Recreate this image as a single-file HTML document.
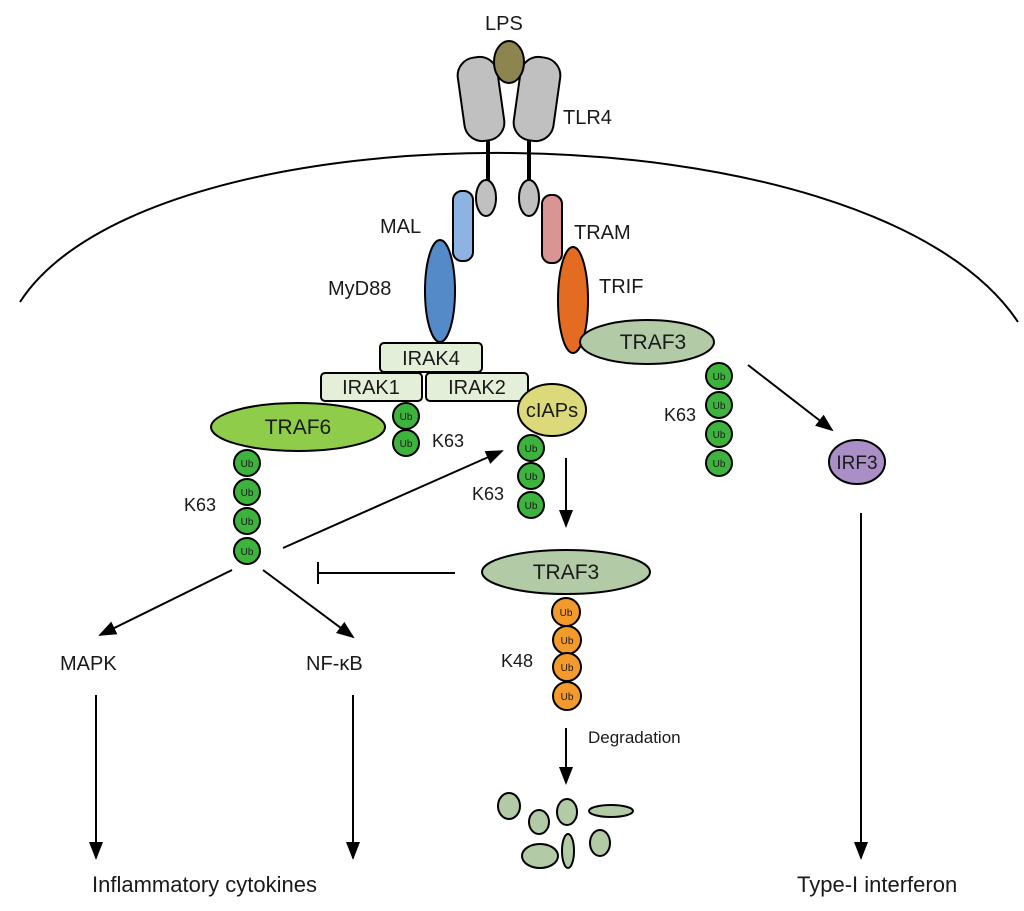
<!DOCTYPE html>
<html><head><meta charset="utf-8"><style>body{margin:0;background:#fff}svg{display:block}text{font-family:"Liberation Sans",Arial,sans-serif;fill:#1a1a1a}</style></head>
<body>
<svg width="1024" height="911" viewBox="0 0 1024 911" xmlns="http://www.w3.org/2000/svg">
<defs>
<marker id="ah2" markerWidth="18" markerHeight="16" refX="16" refY="7" orient="auto" markerUnits="userSpaceOnUse"><path d="M0,0 L18,7 L0,14 z" fill="#000"/></marker>
</defs>
<g stroke="#000" stroke-width="2">
<path d="M20,302 C150,100 870,100 1018,322" fill="none"/>
<line x1="488" y1="138" x2="488" y2="182" stroke-width="4"/>
<line x1="529" y1="138" x2="529" y2="182" stroke-width="4"/>
<rect x="461" y="57" width="40" height="84" rx="18" fill="#c0c0c0" transform="rotate(-8 481 99)"/>
<rect x="517" y="57" width="40" height="84" rx="18" fill="#c0c0c0" transform="rotate(8 537 99)"/>
<ellipse cx="509" cy="62" rx="15" ry="21" fill="#8c8550"/>
<ellipse cx="486" cy="198" rx="10" ry="18" fill="#c0c0c0"/>
<ellipse cx="529" cy="198" rx="10" ry="18" fill="#c0c0c0"/>
<rect x="453" y="191" width="20" height="70" rx="9" fill="#8db3e2"/>
<ellipse cx="440" cy="291" rx="15" ry="51" fill="#558ac8"/>
<rect x="542" y="195" width="20" height="68" rx="9" fill="#d99594"/>
<ellipse cx="573" cy="300" rx="15" ry="53" fill="#e46c22"/>
<ellipse cx="647" cy="342" rx="67" ry="22" fill="#b2caa6"/>
<rect x="380" y="343" width="102" height="29" rx="4" fill="#e3efd8"/>
<rect x="321" y="373" width="101" height="28" rx="4" fill="#e3efd8"/>
<rect x="426" y="373" width="102" height="28" rx="4" fill="#e3efd8"/>
<ellipse cx="298" cy="427" rx="87" ry="24" fill="#8fcc4a"/>
<ellipse cx="552" cy="410" rx="34" ry="26" fill="#dcd97a"/>
<ellipse cx="857" cy="462" rx="28" ry="22" fill="#a98fc6"/>
<ellipse cx="566" cy="572" rx="84" ry="22" fill="#b2caa6"/>
</g>
<g stroke="#000" stroke-width="2" fill="#3db33d">
<circle cx="406" cy="416" r="13"/><circle cx="406" cy="443" r="13"/>
<circle cx="531" cy="448" r="13"/><circle cx="531" cy="476" r="13"/><circle cx="531" cy="505" r="13"/>
<circle cx="247" cy="463" r="13"/><circle cx="247" cy="492" r="13"/><circle cx="247" cy="521" r="13"/><circle cx="247" cy="551" r="13"/>
<circle cx="719" cy="376" r="13"/><circle cx="719" cy="405" r="13"/><circle cx="719" cy="434" r="13"/><circle cx="719" cy="463" r="13"/>
</g>
<g stroke="#000" stroke-width="2" fill="#f39a2c">
<circle cx="566" cy="612" r="14"/><circle cx="567" cy="640" r="14"/><circle cx="567" cy="667" r="14"/><circle cx="567" cy="696" r="14"/>
</g>
<g font-size="10" text-anchor="middle">
<text x="406" y="420">Ub</text><text x="406" y="447">Ub</text>
<text x="531" y="452">Ub</text><text x="531" y="480">Ub</text><text x="531" y="509">Ub</text>
<text x="247" y="467">Ub</text><text x="247" y="496">Ub</text><text x="247" y="525">Ub</text><text x="247" y="555">Ub</text>
<text x="719" y="380">Ub</text><text x="719" y="409">Ub</text><text x="719" y="438">Ub</text><text x="719" y="467">Ub</text>
<text x="566" y="616">Ub</text><text x="567" y="644">Ub</text><text x="567" y="671">Ub</text><text x="567" y="700">Ub</text>
</g>
<g stroke="#000" stroke-width="2" fill="#b2caa6">
<ellipse cx="509" cy="806" rx="11" ry="13"/><ellipse cx="539" cy="822" rx="10" ry="12"/>
<ellipse cx="567" cy="812" rx="10" ry="13"/><ellipse cx="611" cy="811" rx="22" ry="6"/>
<ellipse cx="540" cy="856" rx="18" ry="12"/><ellipse cx="568" cy="851" rx="6" ry="17"/>
<ellipse cx="600" cy="843" rx="10" ry="13"/>
</g>
<g stroke="#000" stroke-width="2" fill="none">
<line x1="748" y1="365" x2="832" y2="430" marker-end="url(#ah2)"/>
<line x1="861" y1="513" x2="861" y2="858" marker-end="url(#ah2)"/>
<line x1="283" y1="548" x2="502" y2="451" marker-end="url(#ah2)"/>
<line x1="566" y1="458" x2="566" y2="526" marker-end="url(#ah2)"/>
<line x1="455" y1="573" x2="318" y2="573"/><line x1="318" y1="562" x2="318" y2="584"/>
<line x1="232" y1="570" x2="100" y2="635" marker-end="url(#ah2)"/>
<line x1="263" y1="570" x2="353" y2="637" marker-end="url(#ah2)"/>
<line x1="96" y1="695" x2="96" y2="858" marker-end="url(#ah2)"/>
<line x1="353" y1="695" x2="353" y2="858" marker-end="url(#ah2)"/>
<line x1="566" y1="728" x2="566" y2="783" marker-end="url(#ah2)"/>
</g>
<g font-size="20">
<text x="485" y="30">LPS</text>
<text x="563" y="124">TLR4</text>
<text x="380" y="233">MAL</text>
<text x="328" y="295">MyD88</text>
<text x="574" y="239">TRAM</text>
<text x="599" y="293">TRIF</text>
<text x="432" y="447" font-size="18">K63</text>
<text x="472" y="500" font-size="18">K63</text>
<text x="184" y="511" font-size="18">K63</text>
<text x="664" y="421" font-size="18">K63</text>
<text x="501" y="667" font-size="18">K48</text>
<text x="60" y="670">MAPK</text>
<text x="306" y="670">NF-κB</text>
</g>
<g font-size="20" text-anchor="middle">
<text x="431" y="365">IRAK4</text>
<text x="371" y="394">IRAK1</text>
<text x="477" y="394">IRAK2</text>
<text x="298" y="434" font-size="21">TRAF6</text>
<text x="552" y="417" font-size="20">cIAPs</text>
<text x="653" y="349" font-size="21">TRAF3</text>
<text x="566" y="579" font-size="21">TRAF3</text>
<text x="857" y="469" font-size="19">IRF3</text>
</g>
<text x="588" y="743" font-size="17">Degradation</text>
<text x="92" y="892" font-size="22">Inflammatory cytokines</text>
<text x="797" y="892" font-size="22">Type-I interferon</text>
</svg>
</body></html>
